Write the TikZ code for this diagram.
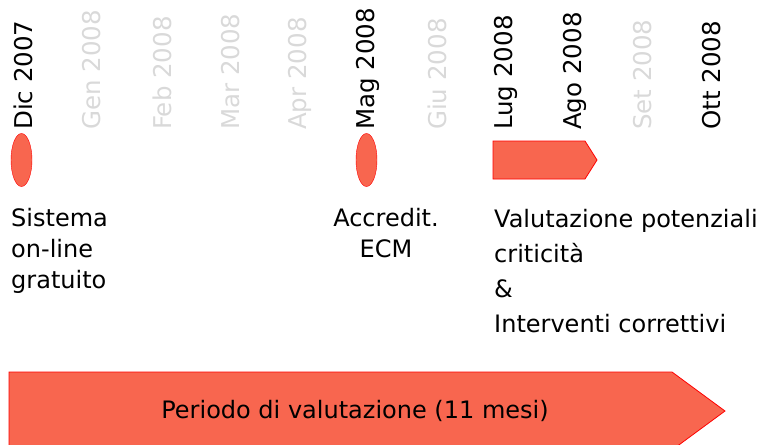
\documentclass[tikz,border=0pt]{standalone}
\usepackage{fontspec}
\setmainfont{DejaVu Sans}
\usetikzlibrary{arrows, positioning, shapes.geometric}

\definecolor{salmone}{RGB}{248,102,79}
\definecolor{grigio}{RGB}{217,217,217}

\begin{document}
\begin{tikzpicture}[x=1pt, y=-1pt]
		\tikzstyle{Mese} = [rotate=90, anchor=west, inner sep=0pt, font=\fontsize{24.5}{28}\selectfont]
		\tikzstyle{Spento} = [Mese, text=grigio]
		\tikzstyle{Evento} = [ellipse, draw=red, fill=salmone, minimum width=21pt, minimum height=53pt, inner sep=0pt]
		\tikzstyle{Freccia} = [draw=red, fill=salmone, line width=0.8pt]
		\tikzstyle{Testo} = [inner sep=0pt, font=\fontsize{24}{31}\selectfont]
		\tikzstyle{TestoLargo} = [inner sep=0pt, font=\fontsize{24}{35}\selectfont]
		
		\clip (0, 0) rectangle (767, 444);
		
		\node (dic) [Mese] at (23, 130) {Dic 2007};
		\node (gen) [Spento] at (92, 130) {Gen 2008};
		\node (feb) [Spento] at (162, 130) {Feb 2008};
		\node (mar) [Spento] at (231, 130) {Mar 2008};
		\node (apr) [Spento] at (300, 130) {Apr 2008};
		\node (mag) [Mese] at (368, 130) {Mag 2008};
		\node (giu) [Spento] at (437, 130) {Giu 2008};
		\node (lug) [Mese] at (506, 130) {Lug 2008};
		\node (ago) [Mese] at (575, 130) {Ago 2008};
		\node (set) [Spento] at (643, 130) {Set 2008};
		\node (ott) [Mese] at (712, 130) {Ott 2008};
		
		\node (e1) [Evento] at (21.5, 160) {};
		\node (e2) [Evento] at (366.5, 160) {};
		\draw [Freccia] (493, 141) -- (585, 141) -- (597, 160) -- (585, 179) -- (493, 179) -- cycle;
		
		\node (t1) [Testo, align=left, anchor=north west] at (11, 208) {Sistema\\on-line\\gratuito};
		\node (t2) [Testo, align=center, anchor=north] at (386, 208) {Accredit.\\ECM};
		\node (t3) [TestoLargo, align=left, anchor=north west] at (494, 209) {Valutazione potenziali\\criticità\\\&\\Interventi correttivi};
		
		\draw [Freccia] (9, 372) -- (672, 372) -- (725, 411) -- (672, 450) -- (9, 450) -- cycle;
		\node (periodo) [Testo] at (355, 411) {Periodo di valutazione (11 mesi)};
		\end{tikzpicture}
\end{document}
